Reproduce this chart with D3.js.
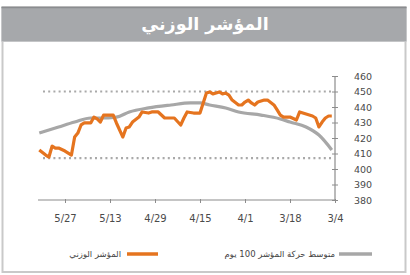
<!DOCTYPE html>
<html><head><meta charset="utf-8">
<script src="https://cdn.jsdelivr.net/npm/d3@7"></script>
<style>
body{margin:0;background:#fff;}
svg{display:block;}
</style></head>
<body>
<svg id="c" width="410" height="275"></svg>
<script>
const title = "المؤشر الوزني";
const seriesNames = ["المؤشر الوزني", "متوسط حركة المؤشر 100 يوم"];
const indexDates = ["2015-03-05","2015-03-06","2015-03-07","2015-03-08","2015-03-09","2015-03-10","2015-03-11","2015-03-12","2015-03-14","2015-03-15","2015-03-16","2015-03-18","2015-03-20","2015-03-21","2015-03-22","2015-03-23","2015-03-25","2015-03-26","2015-03-28","2015-03-29","2015-03-30","2015-03-31","2015-04-01","2015-04-02","2015-04-03","2015-04-05","2015-04-06","2015-04-07","2015-04-08","2015-04-09","2015-04-11","2015-04-12","2015-04-13","2015-04-14","2015-04-15","2015-04-17","2015-04-19","2015-04-20","2015-04-21","2015-04-23","2015-04-24","2015-04-26","2015-04-28","2015-04-30","2015-05-01","2015-05-03","2015-05-04","2015-05-06","2015-05-07","2015-05-08","2015-05-09","2015-05-11","2015-05-12","2015-05-15","2015-05-16","2015-05-17","2015-05-18","2015-05-19","2015-05-21","2015-05-22","2015-05-23","2015-05-24","2015-05-25","2015-05-27","2015-05-29","2015-05-30","2015-05-31","2015-06-01","2015-06-02","2015-06-04"];
const indexValues = [434.2,434.2,432.9,430.3,427.1,432.9,434.2,434.8,436.1,436.8,431.6,433.5,433.5,434.8,438.1,441.3,444.5,444.5,443.2,441.3,442.6,444.5,443.2,441.3,441.3,444.5,447.7,449,448.4,449.7,448.4,449.7,449,442.6,436.1,436.1,436.8,432.9,428.4,432.9,432.9,432.9,436.8,436.8,436.1,436.8,433.5,430.3,427.1,426.5,420.6,429.7,434.8,434.8,430.3,432.3,433.5,429.7,429.7,428.4,423.2,420.6,409,411.6,413.5,413.5,414.8,407.7,409,412.3];
const maDates = ["2015-03-05","2015-03-09","2015-03-13","2015-03-18","2015-03-21","2015-03-27","2015-04-03","2015-04-07","2015-04-12","2015-04-15","2015-04-18","2015-04-24","2015-05-01","2015-05-07","2015-05-11","2015-05-16","2015-05-19","2015-05-24","2015-05-29","2015-06-04"];
const maValues = [412.3,421.9,427.1,430.3,432.3,434.8,436.8,439.4,441.3,442.6,442.6,441.3,439.4,436.8,433.5,432.9,432.9,430.3,427.1,423.2];
const refLevels = [450, 407];
const yTicks = [380,390,400,410,420,430,440,450,460];
const xTickDates = ["2015-03-04","2015-03-18","2015-04-01","2015-04-15","2015-04-29","2015-05-13","2015-05-27"];

const svg = d3.select("#c");
const parse = d3.utcParse("%Y-%m-%d");
const fmt = d3.utcFormat("%-m/%-d");
const font = "'DejaVu Sans', 'Liberation Sans', sans-serif";

// frame
svg.append("rect").attr("x",2.5).attr("y",7).attr("width",403).attr("height",265)
  .attr("fill","#fff").attr("stroke","#c9c9c9").attr("stroke-width",2);
svg.append("rect").attr("x",1.5).attr("y",7).attr("width",405).attr("height",34).attr("fill","#a6a8ab");
svg.append("line").attr("x1",1.5).attr("x2",406.5).attr("y1",7.5).attr("y2",7.5).attr("stroke","#8a8c8f").attr("stroke-width",1.5);
svg.append("line").attr("x1",1.5).attr("x2",406.5).attr("y1",41.5).attr("y2",41.5).attr("stroke","#c4c5c7").attr("stroke-width",1);
svg.append("text").attr("x",205).attr("y",30).attr("text-anchor","middle")
  .attr("font-family",font).attr("font-weight","bold").attr("font-size",17.5)
  .attr("fill","#fff").text(title);

const x = d3.scaleUtc().domain([parse("2015-03-04"), parse("2015-05-27")]).range([335, 65]);
const y = d3.scaleLinear().domain([380,460]).range([200,76]);

// reference dotted lines
svg.selectAll("line.ref").data(refLevels).join("line").attr("class","ref")
  .attr("x1",43).attr("x2",333).attr("y1",d=>y(d)).attr("y2",d=>y(d))
  .attr("stroke","#a9a9a9").attr("stroke-width",2.2).attr("stroke-dasharray","2,3.2");

// x axis
const xa = svg.append("g").attr("transform","translate(0,200)")
  .call(d3.axisBottom(x).tickValues(xTickDates.map(parse)).tickFormat(fmt).tickSize(3).tickPadding(12));
xa.select(".domain").remove();
xa.append("line").attr("x1",38).attr("x2",335).attr("stroke","#8c8c8c").attr("stroke-width",1.2);
xa.selectAll(".tick line").attr("stroke","#8c8c8c").attr("y1",-1);
xa.selectAll(".tick text").attr("font-family",font).attr("font-size",10).attr("fill","#4a4a4a");

// y axis
const ya = svg.append("g").attr("transform","translate(335,0)")
  .call(d3.axisRight(y).tickValues(yTicks).tickSize(3).tickPadding(14));
ya.select(".domain").remove();
ya.append("line").attr("y1",76).attr("y2",200).attr("stroke","#8c8c8c").attr("stroke-width",1.2);
ya.selectAll(".tick line").attr("stroke","#8c8c8c").attr("x1",-3);
ya.selectAll(".tick text").attr("font-family",font).attr("font-size",9.5).attr("fill","#4a4a4a").attr("text-anchor","start").attr("dx",2);

// lines
const maData = maDates.map((d,i)=>({d:parse(d), v:maValues[i]}));
const idxData = indexDates.map((d,i)=>({d:parse(d), v:indexValues[i]}));
svg.append("path").datum(maData)
  .attr("d", d3.line().x(p=>x(p.d)).y(p=>y(p.v)).curve(d3.curveMonotoneX))
  .attr("fill","none").attr("stroke","#a7a7a7").attr("stroke-width",3.2);
svg.append("path").datum(idxData)
  .attr("d", d3.line().x(p=>x(p.d)).y(p=>y(p.v)))
  .attr("fill","none").attr("stroke","#e5741f").attr("stroke-width",3.2).attr("stroke-linejoin","round");

// legend
const lg = svg.append("g");
lg.append("line").attr("x1",339).attr("x2",372).attr("y1",254).attr("y2",254).attr("stroke","#a7a7a7").attr("stroke-width",3.5);
lg.append("text").attr("x",335).attr("y",257).attr("text-anchor","end").attr("font-family",font).attr("font-size",8.5).attr("fill","#444").text(seriesNames[1]);
lg.append("line").attr("x1",127).attr("x2",158).attr("y1",254).attr("y2",254).attr("stroke","#e5741f").attr("stroke-width",3.5);
lg.append("text").attr("x",121).attr("y",257).attr("text-anchor","end").attr("font-family",font).attr("font-size",8.5).attr("fill","#444").text(seriesNames[0]);
</script>
</body></html>
